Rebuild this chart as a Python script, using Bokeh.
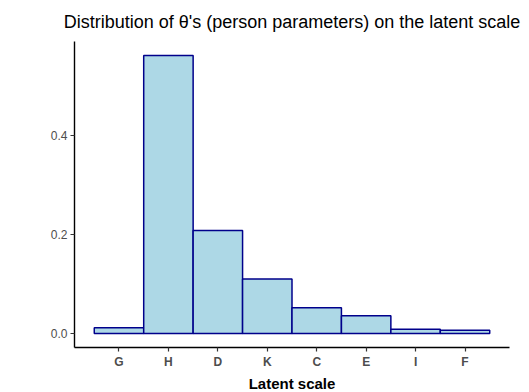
from bokeh.plotting import figure
from bokeh.models import FactorRange, Range1d, FixedTicker, PrintfTickFormatter, ColumnDataSource
from bokeh.embed import file_html
from bokeh.resources import INLINE

categories = ["G", "H", "D", "K", "C", "E", "I", "F"]
proportions = [0.012, 0.561, 0.208, 0.110, 0.052, 0.036, 0.009, 0.007]
y_ticks = [0.0, 0.2, 0.4]
title_text = "Distribution of \u03b8's (person parameters) on the latent scale"
x_title = "Latent scale"

FONT = "Liberation Sans"

src = ColumnDataSource(dict(cat=categories, val=proportions))

p = figure(
    x_range=FactorRange(factors=categories, range_padding=0.4, range_padding_units="absolute"),
    y_range=Range1d(-0.028, 0.589),
    frame_width=435, frame_height=306,
    min_border_left=74, min_border_right=20, min_border_top=41, min_border_bottom=45,
    output_backend="svg", toolbar_location=None,
    title=title_text,
)

p.vbar(x="cat", top="val", bottom=0, width=1.0, source=src,
       fill_color="#ADD8E6", line_color="#00008B", line_width=1.5)

p.title.text_font = FONT
p.title.text_font_size = "18px"
p.title.text_font_style = "normal"
p.title.text_color = "black"
p.title.align = "center"
p.title.standoff = 19

p.xgrid.visible = False
p.ygrid.visible = False
p.outline_line_color = None
p.background_fill_color = "white"
p.border_fill_color = "white"

for ax in (p.xaxis[0], p.yaxis[0]):
    ax.axis_line_color = "black"
    ax.axis_line_width = 1.4
    ax.major_tick_line_color = "#333333"
    ax.major_tick_line_width = 1.2
    ax.major_tick_in = 0
    ax.major_tick_out = 4
    ax.minor_tick_line_color = None
    ax.major_label_text_font = FONT
    ax.major_label_text_font_size = "12px"
    ax.major_label_text_color = "#4D4D4D"
    ax.major_label_standoff = 3

p.yaxis[0].ticker = FixedTicker(ticks=y_ticks)
p.yaxis[0].formatter = PrintfTickFormatter(format="%.1f")

p.xaxis[0].major_label_text_font_style = "bold"
p.xaxis[0].axis_label = x_title
p.xaxis[0].axis_label_text_font = FONT
p.xaxis[0].axis_label_text_font_size = "15px"
p.xaxis[0].axis_label_text_font_style = "bold"
p.xaxis[0].axis_label_text_color = "black"
p.xaxis[0].axis_label_standoff = 3

open("out.html", "w").write(file_html(p, INLINE))
